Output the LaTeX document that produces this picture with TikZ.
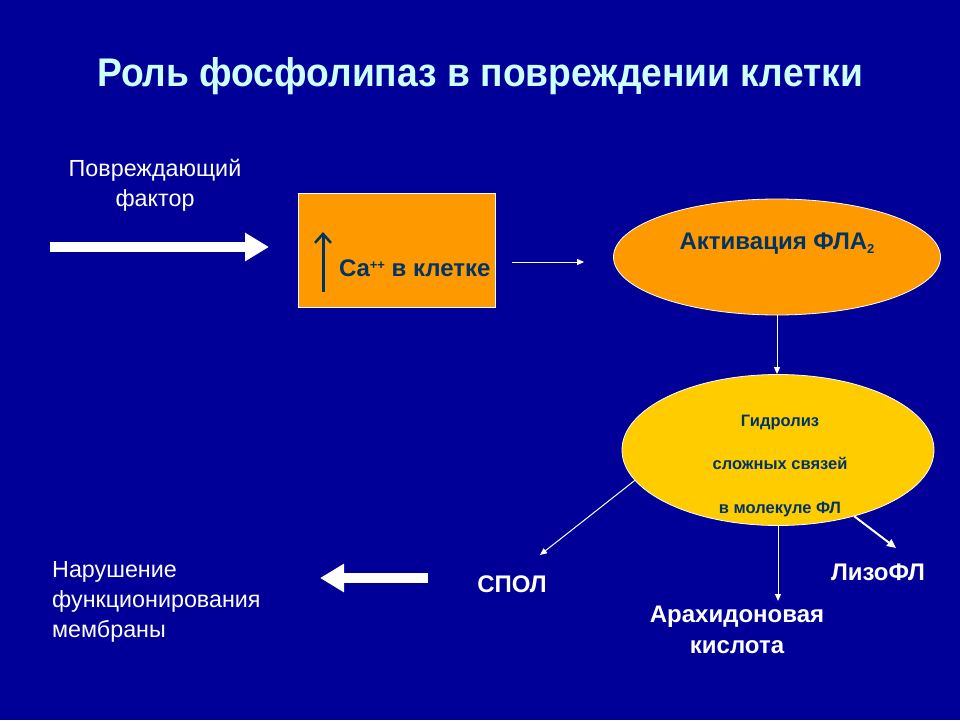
\documentclass[tikz,border=0pt]{standalone}
\usepackage{fontspec}
\setmainfont{Liberation Sans}
\newfontfamily\titlefont[FakeStretch=0.93]{Liberation Sans}
\usetikzlibrary{shapes.geometric,arrows.meta}
\definecolor{bgblue}{RGB}{0,0,153}
\definecolor{titlecyan}{RGB}{204,255,255}
\definecolor{boxorange}{RGB}{255,153,0}
\definecolor{ellyellow}{RGB}{255,204,0}
\definecolor{darktext}{RGB}{0,51,102}
\newcommand{\supsmall}[1]{\raisebox{7pt}{\fontsize{13}{13}\selectfont #1}}
\newcommand{\subsmall}[1]{\raisebox{-4pt}{\fontsize{13}{13}\selectfont #1}}
\tikzset{
  titletxt/.style={text=titlecyan,font=\titlefont\bfseries\fontsize{40}{44}\selectfont},
  plaintxt/.style={text=white,font=\fontsize{23.3}{30}\selectfont,inner sep=0pt},
  whitebold/.style={text=white,font=\bfseries\fontsize{24}{31}\selectfont,inner sep=1pt},
  darkbold/.style={text=darktext,font=\bfseries\fontsize{24}{28}\selectfont,inner sep=0pt},
  smalldark/.style={text=darktext,font=\bfseries\fontsize{16.5}{20}\selectfont,inner sep=0pt},
  orangebox/.style={draw=white,line width=0.8pt,fill=boxorange,minimum width=197pt,minimum height=114pt,inner sep=0pt},
  orangeell/.style={ellipse,draw=white,line width=0.8pt,fill=boxorange,minimum width=327pt,minimum height=116pt,inner sep=0pt},
  yellowell/.style={ellipse,draw=white,line width=0.8pt,fill=ellyellow,minimum width=312pt,minimum height=151pt,inner sep=0pt},
  bigarrow/.style={draw=white,line width=10pt,-{Triangle[length=24pt,width=27pt]}},
  thinarrow/.style={draw=white,line width=1pt,-{Triangle[length=7pt,width=6pt]}},
  medarrow/.style={draw=white,line width=2pt,-{Triangle[length=9pt,width=8pt]}},
  uparrow/.style={draw=darktext,line width=3pt,-{Straight Barb[length=9pt,width=16pt,line width=2.5pt]}}
}
\begin{document}
\begin{tikzpicture}[x=1pt,y=-1pt]
\fill[bgblue] (0,0) rectangle (960,720);
\useasboundingbox (0,0) rectangle (960,720);

\node[titletxt] (title) at (480,76) {Роль фосфолипаз в повреждении клетки};

\node[plaintxt,align=center,anchor=north] (factor) at (155,159) {Повреждающий\\фактор};
\coordinate (fstart) at (50,247);
\coordinate (fend) at (269,247);
\draw[bigarrow] (fstart) -- (fend);

\node[orangebox] (box) at (396.5,250) {};
\node[darkbold,anchor=base west] (ca) at (339,276) {Ca\supsmall{++} в клетке};
\coordinate (upb) at (323,292);
\coordinate (upt) at (323,232);
\draw[uparrow] (upb) -- (upt);

\node[orangeell] (e1) at (777,257) {};
\node[darkbold,anchor=base] (act) at (777,249) {Активация ФЛА\subsmall{2}};
\draw[thinarrow,shorten <=17pt,shorten >=29pt] ([yshift=-12pt]box.east) -- ([yshift=-12pt]box.east -| e1.west);

\node[yellowell] (e2) at (778,450) {};
\node[smalldark,anchor=base] (g1) at (780,426) {Гидролиз};
\node[smalldark,anchor=base] (g2) at (780,469) {сложных связей};
\node[smalldark,anchor=base] (g3) at (780,513) {в молекуле ФЛ};
\draw[thinarrow] (e1.south) -- (e1.south |- e2.north);

\node[whitebold,anchor=base] (spol) at (512,592) {СПОЛ};
\node[whitebold,align=center,anchor=north] (arach) at (737,605) {Арахидоновая\\кислота};
\node[whitebold,anchor=base] (lizo) at (878,580) {ЛизоФЛ};
\coordinate (spoltip) at (540,555);
\coordinate (lizotip) at (896,548);
\draw[thinarrow] (e2.192) -- (spoltip);
\draw[thinarrow,shorten >=4pt] (e2.south) -- (e2.south |- arach.north);
\draw[medarrow] (e2.-41) -- (lizotip);

\coordinate (lstart) at (428,578);
\coordinate (lend) at (320,578);
\draw[bigarrow] (lstart) -- (lend);
\node[plaintxt,align=left,anchor=north west] (nar) at (52,561) {Нарушение\\функционирования\\мембраны};
\end{tikzpicture}
\end{document}
